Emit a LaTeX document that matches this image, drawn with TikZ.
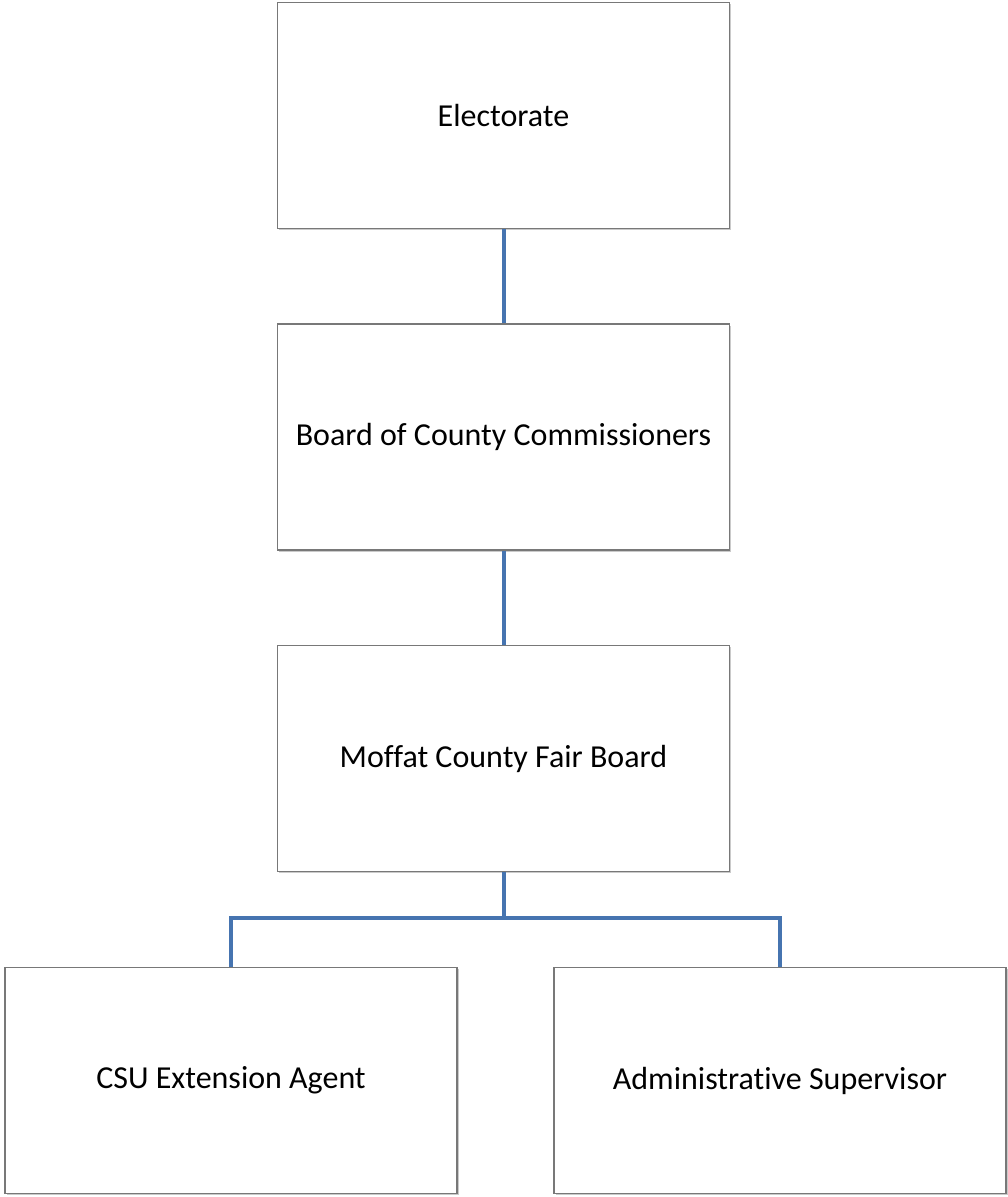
\documentclass[tikz,border=0pt]{standalone}
\usepackage{fontspec}
\setmainfont[Ligatures={NoCommon}]{Carlito}
\usetikzlibrary{shadows}
\definecolor{linkblue}{RGB}{70,116,176}
\definecolor{boxgray}{RGB}{120,120,120}
\begin{document}
\begin{tikzpicture}[x=1pt,y=-1pt,
  orgbox/.style={draw=boxgray,line width=1.2pt,fill=white,minimum width=452pt,minimum height=226pt,
    inner sep=0pt,font=\fontsize{32}{38}\selectfont,anchor=center,
    drop shadow={shadow xshift=1.5pt,shadow yshift=-1.5pt,fill=black!35,opacity=0.6}},
  link/.style={draw=linkblue,line width=4pt}]
\useasboundingbox (0,0) rectangle (1007,1197);
\node[orgbox] (e) at (503.5,115.5) {Electorate};
\node[orgbox] (b) at (503.5,437) {Board of County Commissioners};
\node[orgbox] (m) at (503.5,758.5) {Moffat County Fair Board};
\node[orgbox] (c) at (231,1080.5) {CSU Extension Agent};
\node[orgbox] (a) at (780,1080.5) {Administrative Supervisor};
\coordinate (j) at (503.5,918);
\draw[link] (e.south) -- (b.north);
\draw[link] (b.south) -- (m.north);
\draw[link] (m.south) -- (j);
\draw[link] (c.north) |- (j) -| (a.north);
\end{tikzpicture}
\end{document}
